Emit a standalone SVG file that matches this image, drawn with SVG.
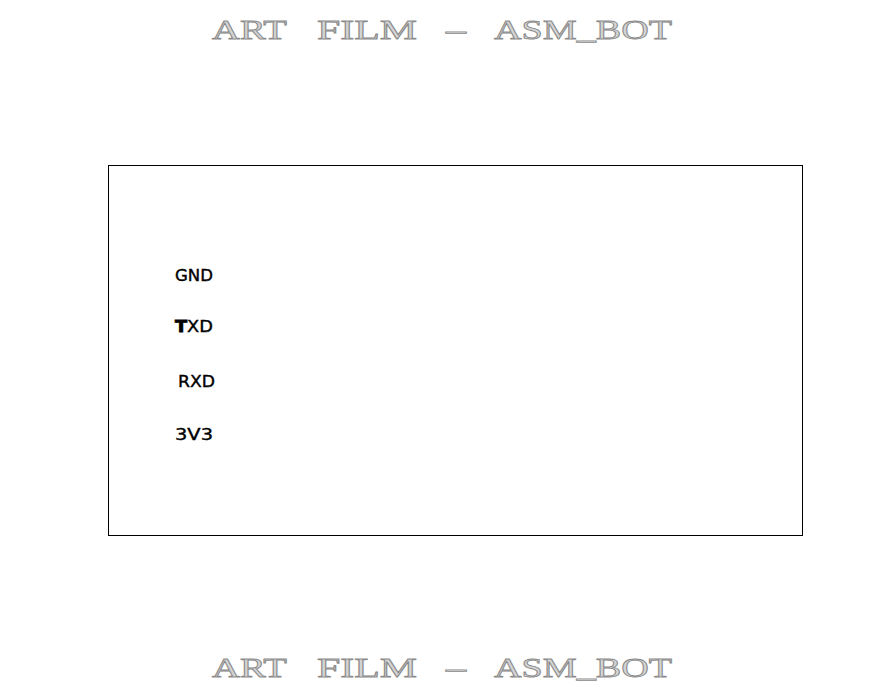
<svg xmlns="http://www.w3.org/2000/svg" width="893" height="696" viewBox="0 0 893 696">
<style>
.title{font-family:"Liberation Serif","DejaVu Serif",serif;font-size:27px;fill:#d4d4d4;stroke:#8a8a8a;stroke-width:0.8}
.pin{font-family:"DejaVu Sans","Liberation Sans",sans-serif;font-size:16.5px;fill:#000;stroke:#000;stroke-width:0.4}
</style>
<rect width="893" height="696" fill="#fff"/>
<g id="title-top">
<text class="title" x="212" y="39" textLength="75" lengthAdjust="spacingAndGlyphs">ART</text>
<text class="title" x="317" y="39" textLength="100" lengthAdjust="spacingAndGlyphs">FILM</text>
<text class="title" x="446" y="39" textLength="20" lengthAdjust="spacingAndGlyphs">–</text>
<text class="title" x="494" y="39" textLength="178" lengthAdjust="spacingAndGlyphs">ASM_BOT</text>
</g>
<g id="board">
<rect x="108.5" y="165.5" width="694" height="370" fill="none" stroke="#000" stroke-width="1"/>
</g>
<g id="pins">
<text class="pin" x="175" y="281" textLength="38" lengthAdjust="spacingAndGlyphs">GND</text>
<text class="pin" x="175" y="332" textLength="38" lengthAdjust="spacingAndGlyphs"><tspan font-weight="bold" stroke-width="0.8">T</tspan>XD</text>
<text class="pin" x="178" y="387" textLength="37" lengthAdjust="spacingAndGlyphs">RXD</text>
<text class="pin" x="175" y="440" textLength="38" lengthAdjust="spacingAndGlyphs">3V3</text>
</g>
<g id="connectors"></g>
<g id="title-bottom">
<text class="title" x="212" y="677" textLength="75" lengthAdjust="spacingAndGlyphs">ART</text>
<text class="title" x="317" y="677" textLength="100" lengthAdjust="spacingAndGlyphs">FILM</text>
<text class="title" x="446" y="677" textLength="20" lengthAdjust="spacingAndGlyphs">–</text>
<text class="title" x="494" y="677" textLength="178" lengthAdjust="spacingAndGlyphs">ASM_BOT</text>
</g>
</svg>
